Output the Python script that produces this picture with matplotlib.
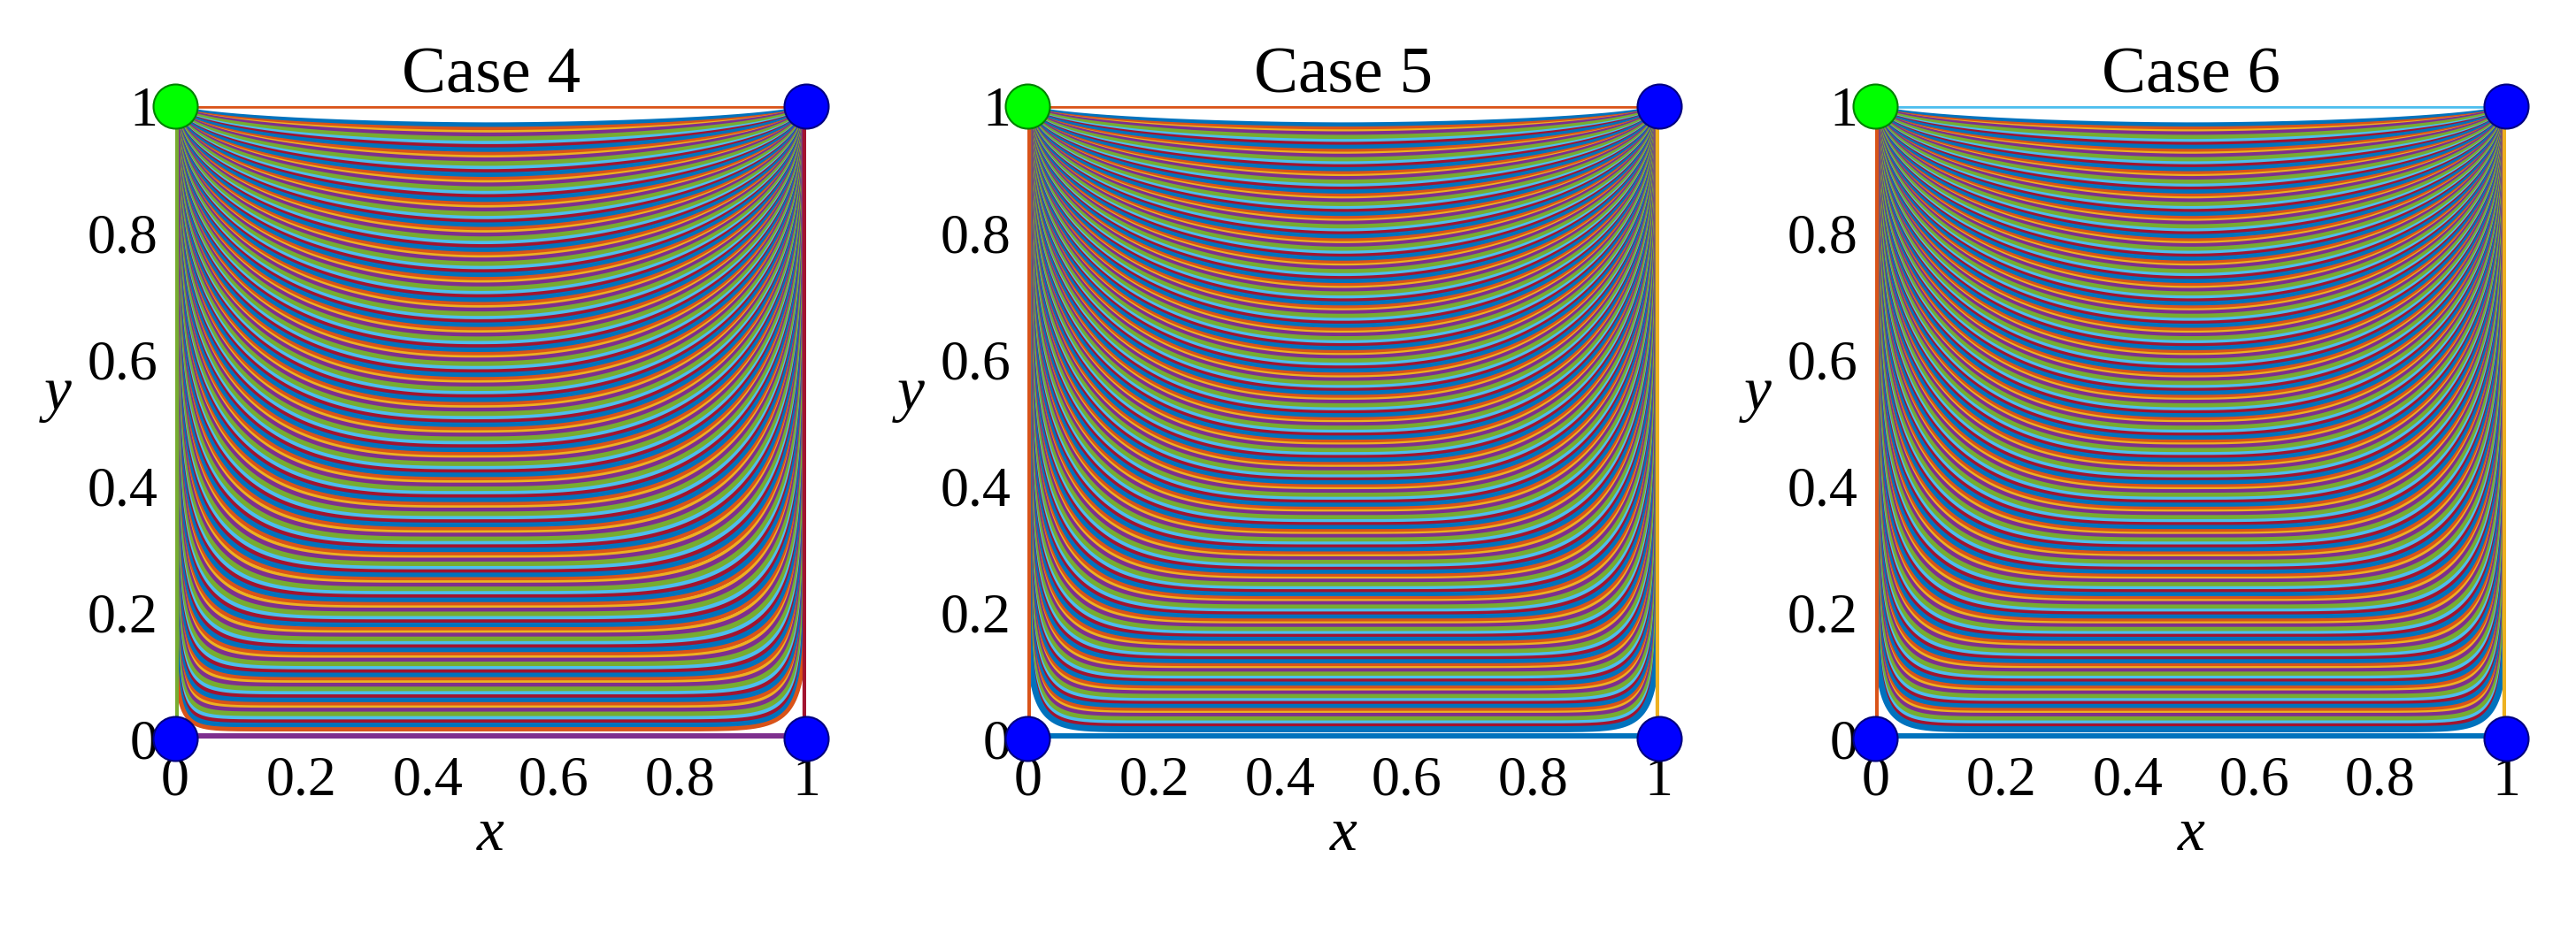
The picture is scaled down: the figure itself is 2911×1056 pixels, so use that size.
import numpy as np
import matplotlib
matplotlib.use("Agg")
import matplotlib.pyplot as plt

plt.rcParams['font.family'] = ['Liberation Serif', 'DejaVu Serif']

titles = ["Case 4", "Case 5", "Case 6"]
tick_vals = [0, 0.2, 0.4, 0.6, 0.8, 1]
tick_labels = ["0", "0.2", "0.4", "0.6", "0.8", "1"]
colors = ["#0072BD", "#D95319", "#EDB120", "#7E2F8E", "#77AC30", "#4DBEEE", "#A2142F"]
n_curves = [170, 190, 190]
skews = [0.15, 0.0, 0.0]
line_widths = [5, 4, 6, 3.5, 4.5, 5.5, 4]

fig = plt.figure(figsize=(29.11, 10.56), dpi=100)
lefts = [0.068, 0.399, 0.728]
w, h, b = 0.245, 0.677, 0.209

x = np.linspace(0, 1, 800)
for k in range(3):
    ax = fig.add_axes([lefts[k], b, w, h])
    depths = np.linspace(0.03, 0.985, n_curves[k])
    for i, d in enumerate(depths):
        p = 1.8 + 3.0 * d ** 2 + 14 * d ** 8
        xs = x ** (1 - skews[k] * d)
        u = np.abs(2 * xs - 1)
        y = 1 - d * np.clip(1 - u ** p, 0, 1) ** (1 / p)
        ax.plot(x, y, color=colors[i % 7], lw=line_widths[(i * 3) % 7], solid_capstyle='butt')
    ax.plot([0, 1], [1, 1], color=colors[1] if k < 2 else colors[5], lw=4)
    ax.plot([1, 1], [0, 1], color=colors[6] if k == 0 else colors[2], lw=6)
    ax.plot([0, 1], [0.005, 0.005], color=colors[3] if k == 0 else colors[0], lw=5)
    ax.plot([0, 0], [0, 1], color=colors[1] if k else colors[4], lw=5)
    ax.plot([0, 1, 1], [0, 0, 1], 'o', color='#0000FF', ms=36, mec='#000080', mew=1.5, clip_on=False, zorder=10)
    ax.plot([0], [1], 'o', color='#00FF00', ms=36, mec='#008000', mew=1.5, clip_on=False, zorder=10)
    ax.set_xlim(0, 1)
    ax.set_ylim(0, 1)
    for s in ax.spines.values():
        s.set_visible(False)
    ax.set_xticks(tick_vals)
    ax.set_xticklabels(tick_labels, fontsize=46)
    ax.set_yticks(tick_vals)
    ax.set_yticklabels(tick_labels, fontsize=46)
    ax.tick_params(direction='in', length=0, pad=14)
    ax.set_title(titles[k], fontsize=54, pad=6)
    ax.set_xlabel("x", fontsize=50, style='italic', labelpad=0)
    ax.set_ylabel("y", fontsize=50, style='italic', rotation=0, labelpad=24)

fig.savefig("out.png", dpi=100)
